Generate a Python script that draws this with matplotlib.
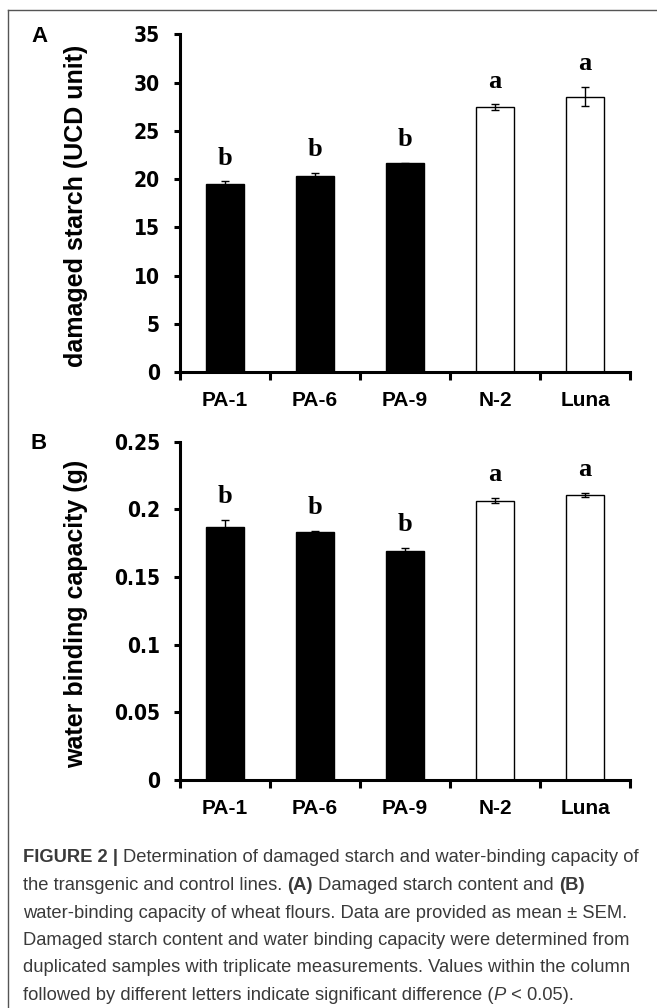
import matplotlib
matplotlib.use("Agg")
import matplotlib.pyplot as plt
from matplotlib import font_manager as fm
import numpy as np

lines_names = ["PA-1", "PA-6", "PA-9", "N-2", "Luna"]

starch_mean = [19.45, 20.3, 21.65, 27.45, 28.55]
starch_sem = [0.3, 0.35, 0.05, 0.28, 1.0]
starch_letters = ["b", "b", "b", "a", "a"]

wbc_mean = [0.187, 0.183, 0.1695, 0.2065, 0.2108]
wbc_sem = [0.0055, 0.001, 0.002, 0.0017, 0.0015]
wbc_letters = ["b", "b", "b", "a", "a"]

bar_fill = ["black", "black", "black", "white", "white"]

W, H = 657, 1008
fig = plt.figure(figsize=(W / 100, H / 100), dpi=100)

# narrow bold face for the tick numbers, if there is one
installed = fm.fontManager.ttflist
tick_kw = dict(family="Liberation Sans")
if any(f.name == "Liberation Sans Narrow" for f in installed):
    tick_kw = dict(family="Liberation Sans Narrow")
elif any(f.name == "DejaVu Sans" and f.stretch == "condensed" for f in installed):
    tick_kw = dict(family="DejaVu Sans", fontstretch="condensed")


def fy(py):
    return 1 - py / H


def panel(top_px, bottom_px, means, sems, letters, ymax, step, ylabel, tag, fmt):
    ax = fig.add_axes([180 / W, fy(bottom_px), 450 / W, (bottom_px - top_px) / H])
    x = np.arange(len(lines_names))
    ax.bar(x, means, width=0.42, color=bar_fill, edgecolor="black", linewidth=1.0, zorder=2)
    ax.errorbar(x, means, yerr=sems, fmt="none", ecolor="black", elinewidth=1.0,
                capsize=3.2, capthick=1.0, zorder=3)
    for xi, m, s, let in zip(x, means, sems, letters):
        ax.text(xi, m + s + 0.035 * ymax, let, ha="center", va="bottom",
                fontsize=19, fontweight="bold", family="Liberation Serif")
    ax.set_xlim(-0.5, len(lines_names) - 0.5)
    ax.set_ylim(0, ymax)
    for side in ("top", "right"):
        ax.spines[side].set_visible(False)
    for side in ("left", "bottom"):
        ax.spines[side].set_linewidth(2.2)
    yt = np.arange(0, ymax + step / 2, step)
    ax.set_yticks(yt)
    ax.set_yticklabels([fmt(v) for v in yt], fontsize=15, fontweight="bold", **tick_kw)
    ax.tick_params(axis="y", direction="out", length=4.5, width=2.2, pad=10)
    ax.set_xticks(x)
    ax.set_xticklabels(lines_names, fontsize=15, fontweight="bold", family="Liberation Sans")
    ax.set_xticks(np.arange(-0.5, len(lines_names)), minor=True)
    ax.tick_params(axis="x", which="major", length=0, pad=14)
    ax.tick_params(axis="x", which="minor", direction="out", length=5.5, width=2.2)
    fig.text(76 / W, fy((top_px + bottom_px) / 2 + 3), ylabel, rotation=90, ha="center", va="center",
             fontsize=18, fontweight="bold", family="Liberation Sans")
    fig.text(39 / W, fy(top_px + 2), tag, ha="center", va="center",
             fontsize=16, fontweight="bold", family="Liberation Sans")
    return ax


def fmt_int(v):
    return f"{v:.0f}"


def fmt_g(v):
    return f"{v:g}"


panel(34.3, 372, starch_mean, starch_sem, starch_letters, 35, 5,
      "damaged starch (UCD unit)", "A", fmt_int)
panel(441.7, 780, wbc_mean, wbc_sem, wbc_letters, 0.25, 0.05,
      "water binding capacity (g)", "B", fmt_g)

# frame (top and left edges)
fig.add_artist(plt.Line2D([8 / W, 1], [fy(10), fy(10)], color="#555555", lw=1.0))
fig.add_artist(plt.Line2D([8 / W, 8 / W], [fy(10), 0], color="#555555", lw=1.0))

# caption
cap_color = "#3a3a3a"
cap_size = 13.2
caption = [
    [("FIGURE 2 | ", "bold", "normal"),
     ("Determination of damaged starch and water-binding capacity of", "normal", "normal")],
    [("the transgenic and control lines. ", "normal", "normal"), ("(A)", "bold", "normal"),
     (" Damaged starch content and ", "normal", "normal"), ("(B)", "bold", "normal")],
    [("water-binding capacity of wheat flours. Data are provided as mean \u00b1 SEM.", "normal", "normal")],
    [("Damaged starch content and water binding capacity were determined from", "normal", "normal")],
    [("duplicated samples with triplicate measurements. Values within the column", "normal", "normal")],
    [("followed by different letters indicate significant difference (", "normal", "normal"),
     ("P", "normal", "italic"), (" < 0.05).", "normal", "normal")],
]

renderer = fig.canvas.get_renderer()
line_y0 = 858
line_dy = 27.5
for i, segs in enumerate(caption):
    xpx = 23
    for txt, weight, style in segs:
        t = fig.text(xpx / W, fy(line_y0 + i * line_dy), txt, ha="left", va="center",
                     fontsize=cap_size, fontweight=weight, fontstyle=style,
                     family="Liberation Sans", color=cap_color)
        bb = t.get_window_extent(renderer=renderer)
        xpx += bb.width

fig.savefig("out.png", dpi=100)
